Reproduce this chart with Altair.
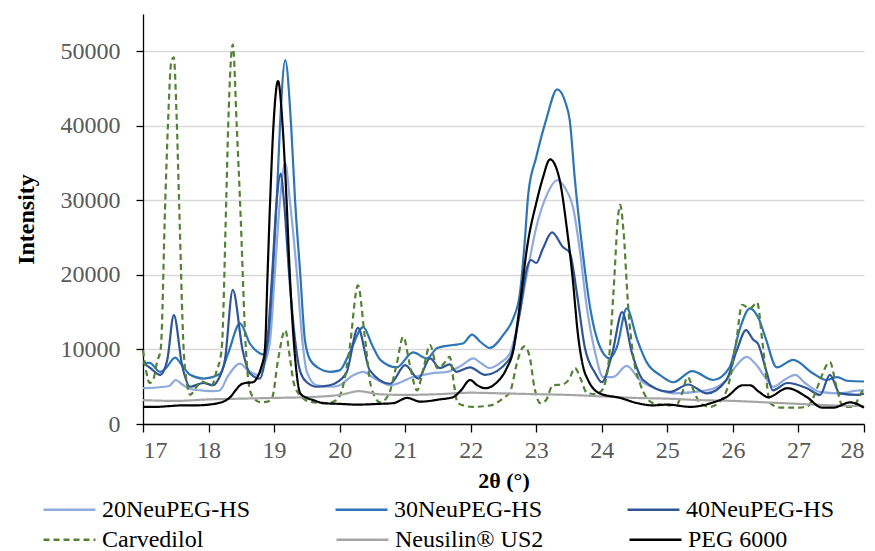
import altair as alt
import pandas as pd

SERIES = ["20NeuPEG-HS", "30NeuPEG-HS", "40NeuPEG-HS", "Carvedilol", "Neusilin® US2", "PEG 6000"]
COLORS = ["#8FAADC", "#2E75B6", "#2F5597", "#548235", "#A5A5A5", "#000000"]
DASHES = [[1, 0], [1, 0], [1, 0], [6, 4], [1, 0], [1, 0]]

a_x = [17.0, 17.2, 17.4, 17.5, 17.6, 17.72, 17.9, 18.07, 18.17, 18.3, 18.48, 18.6, 18.75, 18.85, 18.94, 19.01, 19.09, 19.17, 19.24, 19.35, 19.43, 19.5, 19.65, 19.9, 20.0, 20.2, 20.36, 20.5, 20.77, 21.12, 21.4, 21.64, 21.85, 22.04, 22.15, 22.29, 22.45, 22.6, 22.75, 22.86, 23.0, 23.15, 23.32, 23.45, 23.56, 23.67, 23.77, 23.9, 24.02, 24.17, 24.38, 24.58, 24.89, 25.09, 25.6, 25.9, 26.05, 26.21, 26.35, 26.52, 26.61, 26.8, 26.95, 27.1, 27.33, 27.63, 27.94, 28.0]
a_y = [4800, 4900, 5100, 5900, 5300, 4700, 4500, 4400, 4500, 6500, 8100, 7200, 6600, 8000, 11300, 20000, 30000, 35000, 30000, 20000, 11300, 7000, 5200, 5000, 5200, 6500, 7000, 6300, 5200, 6300, 6800, 7000, 7800, 8800, 8200, 7500, 8200, 9500, 15000, 20200, 26400, 30500, 32700, 31500, 29100, 22900, 15700, 9500, 6300, 6300, 7800, 5900, 4500, 4100, 4500, 5900, 7800, 9000, 8000, 5900, 5000, 6000, 6600, 5500, 4300, 4100, 4500, 4500]

b_x = [17.0, 17.1, 17.26, 17.35, 17.49, 17.6, 17.72, 17.92, 18.17, 18.3, 18.48, 18.63, 18.78, 18.85, 18.91, 18.98, 19.04, 19.09, 19.17, 19.26, 19.32, 19.4, 19.47, 19.55, 19.7, 19.85, 20.0, 20.15, 20.36, 20.5, 20.62, 20.87, 21.12, 21.33, 21.49, 21.73, 21.88, 22.02, 22.15, 22.29, 22.5, 22.65, 22.75, 22.82, 22.88, 23.0, 23.15, 23.32, 23.45, 23.51, 23.59, 23.7, 23.82, 24.02, 24.12, 24.23, 24.38, 24.54, 24.69, 24.9, 25.09, 25.38, 25.7, 25.95, 26.1, 26.26, 26.4, 26.5, 26.67, 26.92, 27.22, 27.43, 27.59, 27.74, 28.0]
b_y = [8200, 8200, 7000, 7500, 8900, 7800, 6600, 6100, 6700, 9500, 13500, 10800, 9500, 9300, 11300, 20000, 30000, 40000, 48800, 40000, 30000, 20000, 11300, 8600, 7400, 7000, 7200, 9500, 13000, 10500, 8600, 7600, 9600, 8800, 10200, 10600, 10800, 12000, 11000, 10200, 12000, 14200, 17500, 24000, 31000, 35800, 40800, 44900, 43000, 40800, 32700, 23700, 15700, 9500, 8800, 10300, 15500, 11300, 8200, 6500, 5600, 7100, 5900, 7600, 12600, 15500, 14000, 11500, 7600, 8600, 6800, 5900, 6300, 5800, 5700]

d_x = [17.0, 17.1, 17.26, 17.37, 17.47, 17.6, 17.72, 17.92, 18.07, 18.15, 18.25, 18.37, 18.52, 18.63, 18.78, 18.85, 18.9, 18.97, 19.04, 19.1, 19.15, 19.23, 19.32, 19.4, 19.5, 19.65, 19.85, 20.1, 20.28, 20.46, 20.77, 21.0, 21.2, 21.38, 21.53, 21.68, 21.78, 21.99, 22.22, 22.6, 22.75, 22.86, 22.92, 23.0, 23.1, 23.24, 23.41, 23.51, 23.62, 23.74, 23.9, 24.0, 24.16, 24.31, 24.46, 24.63, 25.04, 25.32, 25.6, 25.9, 26.06, 26.2, 26.31, 26.38, 26.52, 26.61, 26.83, 27.13, 27.33, 27.48, 27.63, 27.9, 28.0]
d_y = [8200, 7600, 6600, 8600, 14600, 7700, 5000, 5500, 5200, 6000, 8600, 18000, 9900, 6800, 6100, 8000, 11300, 20000, 30000, 33600, 30000, 20000, 11300, 7000, 5600, 5000, 5200, 6800, 12900, 7200, 5400, 7900, 6100, 8800, 7500, 8000, 7000, 7600, 6600, 8800, 15000, 21000, 22000, 21600, 23500, 25700, 23700, 23000, 17500, 10300, 6800, 5600, 9500, 15000, 9500, 5900, 4300, 5300, 4100, 5900, 9900, 12600, 11300, 10800, 6800, 4500, 5500, 4800, 3900, 6600, 4100, 3900, 4100]

c_x = [17.0, 17.05, 17.1, 17.15, 17.22, 17.27, 17.34, 17.38, 17.43, 17.47, 17.51, 17.55, 17.62, 17.67, 17.72, 17.8, 17.9, 17.98, 18.05, 18.12, 18.2, 18.27, 18.3, 18.37, 18.43, 18.48, 18.57, 18.62, 18.68, 18.8, 18.9, 18.97, 19.06, 19.17, 19.24, 19.3, 19.4, 19.55, 19.8, 19.95, 20.05, 20.15, 20.28, 20.38, 20.48, 20.62, 20.75, 20.87, 20.97, 21.07, 21.18, 21.28, 21.38, 21.49, 21.58, 21.68, 21.75, 21.8, 22.03, 22.3, 22.5, 22.6, 22.7, 22.75, 22.82, 22.9, 22.97, 23.06, 23.15, 23.25, 23.4, 23.5, 23.59, 23.68, 23.77, 23.9, 24.0, 24.1, 24.18, 24.25, 24.28, 24.33, 24.4, 24.5, 24.58, 24.78, 25.04, 25.15, 25.22, 25.31, 25.4, 25.5, 25.65, 25.8, 25.95, 26.05, 26.14, 26.26, 26.37, 26.45, 26.57, 26.72, 27.0, 27.13, 27.25, 27.33, 27.48, 27.58, 27.68, 27.83, 27.92, 28.0]
c_y = [9900, 7000, 5500, 5800, 8500, 10000, 30000, 40000, 48500, 49200, 42000, 30000, 10000, 5500, 3900, 4800, 5700, 5400, 5200, 7000, 10000, 30000, 40000, 50900, 40000, 30000, 10000, 5000, 3600, 2900, 3000, 3500, 8600, 12600, 9000, 5500, 3800, 3000, 2800, 3200, 5000, 10000, 18600, 12000, 5000, 2900, 4000, 8000, 11700, 8000, 4500, 7500, 10600, 7500, 8000, 9000, 5000, 2800, 2300, 2500, 3500, 4300, 8000, 9500, 10400, 9000, 5000, 2800, 3200, 5200, 5300, 6000, 7500, 6000, 4200, 4000, 4500, 8000, 18000, 28000, 29400, 26000, 16000, 8000, 5500, 2800, 2500, 2700, 4000, 6300, 4500, 2800, 2300, 3000, 5900, 11000, 16000, 15500, 16300, 11000, 2800, 2200, 2200, 2300, 4000, 5900, 8300, 5000, 2300, 2300, 3500, 5000]

n_x = [17.0, 17.5, 18.0, 18.5, 19.0, 19.5, 20.0, 20.3, 20.6, 21.0, 21.5, 22.0, 22.5, 23.0, 23.5, 24.0, 24.5, 25.0, 25.5, 26.0, 26.5, 27.0, 27.5, 28.0]
n_y = [3200, 3100, 3300, 3400, 3500, 3600, 3900, 4400, 4000, 3900, 4000, 4200, 4100, 4000, 3900, 3700, 3500, 3400, 3200, 3100, 2900, 2700, 2500, 2400]

p_x = [17.0, 17.2, 17.4, 17.6, 17.8, 18.0, 18.15, 18.25, 18.33, 18.42, 18.48, 18.56, 18.68, 18.74, 18.8, 18.86, 18.9, 18.94, 18.99, 19.06, 19.13, 19.19, 19.24, 19.31, 19.4, 19.5, 19.6, 19.75, 20.0, 20.27, 20.6, 20.82, 21.03, 21.23, 21.53, 21.73, 21.85, 21.99, 22.1, 22.22, 22.4, 22.55, 22.65, 22.75, 22.86, 23.01, 23.1, 23.21, 23.35, 23.47, 23.55, 23.64, 23.72, 23.79, 23.97, 24.28, 24.54, 24.78, 25.0, 25.35, 25.7, 25.9, 26.15, 26.26, 26.4, 26.54, 26.83, 27.13, 27.36, 27.53, 27.79, 28.0]
p_y = [2300, 2300, 2400, 2500, 2500, 2600, 2800, 3100, 3600, 4600, 5200, 5500, 5600, 6200, 7500, 10000, 20000, 30000, 40000, 46000, 40000, 30000, 20000, 10000, 4100, 3500, 3200, 2800, 2700, 2600, 2700, 2800, 3500, 3000, 3300, 3600, 4500, 5900, 5200, 4800, 5600, 7500, 9900, 16000, 23700, 30000, 33000, 35500, 33000, 26000, 20000, 11700, 7500, 5900, 4100, 3500, 2800, 2500, 2600, 2300, 2900, 3600, 5200, 5200, 4300, 3600, 4800, 3600, 2200, 2200, 2900, 2200]

X_TICKS = list(range(17, 29))
Y_TICKS = [0, 10000, 20000, 30000, 40000, 50000]

XS = [a_x, b_x, d_x, c_x, n_x, p_x]
YS = [a_y, b_y, d_y, c_y, n_y, p_y]


def build(idx):
    return pd.concat(
        [pd.DataFrame({"theta": XS[i], "intensity": YS[i], "series": SERIES[i]}) for i in idx],
        ignore_index=True,
    )


df_top = build([0, 1, 2])
df_bot = build([3, 4, 5])

FONT = "Liberation Serif"

x_enc = alt.X(
    "theta:Q",
    scale=alt.Scale(domain=[17, 28], nice=False, zero=False),
    axis=alt.Axis(title="2θ (°)", values=X_TICKS, grid=False, tickSize=8,
                  labelPadding=6, titlePadding=8),
)
y_enc = alt.Y(
    "intensity:Q",
    scale=alt.Scale(domain=[0, 55000], nice=False),
    axis=alt.Axis(title="Intensity", values=Y_TICKS, grid=True, tickSize=7,
                  labelPadding=16, titlePadding=22, format="d"),
)

top = alt.Chart(df_top).mark_line(interpolate="monotone", strokeWidth=2.2).encode(
    x=x_enc, y=y_enc,
    color=alt.Color(
        "series:N",
        scale=alt.Scale(domain=SERIES[:3], range=COLORS[:3]),
        legend=alt.Legend(title=None, orient="none", legendX=-101, legendY=468,
                          columns=3, direction="horizontal", columnPadding=80),
    ),
)

bot = alt.Chart(df_bot).mark_line(interpolate="monotone", strokeWidth=2.2).encode(
    x=x_enc, y=y_enc,
    stroke=alt.Stroke(
        "series:N",
        scale=alt.Scale(domain=SERIES[3:], range=COLORS[3:]),
        legend=alt.Legend(title=None, orient="none", legendX=-101, legendY=498,
                          columns=3, direction="horizontal", columnPadding=80),
    ),
    strokeDash=alt.StrokeDash(
        "series:N",
        scale=alt.Scale(domain=SERIES[3:], range=DASHES[3:]),
        legend=alt.Legend(title=None, orient="none", legendX=-101, legendY=498,
                          columns=3, direction="horizontal", columnPadding=80),
    ),
)

chart = (
    alt.layer(top, bot)
    .properties(
        width=721,
        height=410,
        autosize=alt.AutoSizeParams(type="none"),
        padding={"left": 135, "top": 6, "right": 3, "bottom": 134},
    )
    .configure_view(stroke=None)
    .configure_axis(
        labelFont=FONT, titleFont=FONT, labelFontSize=24, titleFontSize=24,
        labelColor="#595959", titleColor="#000000", titleFontWeight="bold",
        domainColor="#000000", tickColor="#000000", domainWidth=1.3, tickWidth=1.3,
        gridColor="#D9D9D9", gridWidth=1.3,
    )
    .configure_axisX(titleFontSize=22)
    .configure_legend(
        labelFont=FONT, labelFontSize=24, labelColor="#000000", symbolType="stroke",
        symbolSize=2700, symbolStrokeWidth=2.5, labelOffset=5,
        gridAlign="all", labelLimit=300,
    )
)

chart.save("out.html", embed_options={"renderer": "svg", "actions": False})
